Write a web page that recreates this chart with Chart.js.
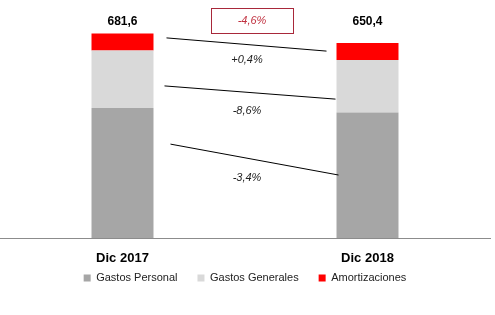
<!DOCTYPE html>
<html>
<head>
<meta charset="utf-8">
<script src="https://cdn.jsdelivr.net/npm/chart.js@4/dist/chart.umd.min.js"></script>
<style>
  html, body { margin: 0; padding: 0; background: #fff; }
  #wrap { width: 495px; height: 315px; position: relative; }
</style>
</head>
<body>
<div id="wrap"><canvas id="chart"></canvas></div>
<script>
// --- data ---
const categories = ['Dic 2017', 'Dic 2018'];
const gastosPersonal = [433.0, 418.1];
const gastosGenerales = [192.0, 175.5];
const amortizaciones = [56.6, 56.8];
const totals = ['681,6', '650,4'];
const totalChange = '-4,6%';

// connector lines between bars (values on the y axis) and their labels
const connFrom = [667, 507, 313];
const connTo = [623, 463, 210];
const connLabels = ['+0,4%', '-8,6%', '-3,4%'];
const connLabelAt = [593, 425, 200];

const annotations = {
    id: 'annotations',
    afterLayout(chart) {
        // pull the legend up, closer to the category labels
        if (chart.legend) {
            chart.legend.top -= 26;
            chart.legend.bottom -= 26;
        }
    },
    afterDatasetsDraw(chart) {
        const ctx = chart.ctx;
        const y = chart.scales.y;
        const meta = chart.getDatasetMeta(0);
        const b1 = meta.data[0], b2 = meta.data[1];
        const r1 = b1.x + b1.width / 2, l2 = b2.x - b2.width / 2;
        const midX = (b1.x + b2.x) / 2;
        const offL = [13, 11, 17], offR = [-10, -1, 2];
        ctx.save();

        // connector lines
        ctx.strokeStyle = '#000';
        ctx.lineWidth = 1;
        connFrom.forEach((v, i) => {
            ctx.beginPath();
            ctx.moveTo(r1 + offL[i], y.getPixelForValue(v));
            ctx.lineTo(l2 + offR[i], y.getPixelForValue(connTo[i]));
            ctx.stroke();
        });

        ctx.font = 'italic 11px "Liberation Sans", Arial, sans-serif';
        ctx.fillStyle = '#222';
        ctx.textAlign = 'center';
        ctx.textBaseline = 'middle';
        connLabels.forEach((t, i) => {
            ctx.fillText(t, midX + 2, y.getPixelForValue(connLabelAt[i]));
        });

        // totals above bars
        const ty = y.getPixelForValue(722);
        ctx.font = 'bold 12px "Liberation Sans", Arial, sans-serif';
        ctx.fillStyle = '#000';
        ctx.fillText(totals[0], b1.x, ty);
        ctx.fillText(totals[1], b2.x, ty);

        // total change box
        const bx = midX + 7;
        ctx.strokeStyle = '#a8283a';
        ctx.strokeRect(Math.round(bx - 41) + 0.5, Math.round(ty - 13) + 0.5, 82, 25);
        ctx.font = 'italic 11px "Liberation Sans", Arial, sans-serif';
        ctx.fillStyle = '#c0303f';
        ctx.fillText(totalChange, bx, ty);
        ctx.restore();
    }
};

new Chart(document.getElementById('chart'), {
    type: 'bar',
    data: {
        labels: categories,
        datasets: [
            { label: 'Gastos Personal', data: gastosPersonal, backgroundColor: '#a6a6a6' },
            { label: 'Gastos Generales', data: gastosGenerales, backgroundColor: '#d9d9d9' },
            { label: 'Amortizaciones', data: amortizaciones, backgroundColor: '#ff0000' }
        ]
    },
    options: {
        responsive: true,
        maintainAspectRatio: false,
        animation: false,
        layout: { padding: { top: 4, right: 5, left: 0, bottom: -4.6 } },
        datasets: { bar: { barPercentage: 0.5, categoryPercentage: 0.506 } },
        scales: {
            x: {
                stacked: true,
                grid: { display: false, drawTicks: false },
                border: { display: true, color: '#8c8c8c', width: 1 },
                ticks: {
                    padding: 19.5,
                    color: '#000',
                    // tiny line height: the label box adds almost no height
                    font: { family: '"Liberation Sans", Arial, sans-serif', size: 13, weight: 'bold', lineHeight: 0.12 }
                }
            },
            y: {
                stacked: true,
                display: false,
                min: 0,
                max: 780
            }
        },
        plugins: {
            legend: {
                position: 'bottom',
                labels: {
                    boxWidth: 7,
                    boxHeight: 7,
                    padding: 20,
                    color: '#222',
                    font: { family: '"Liberation Sans", Arial, sans-serif', size: 11 }
                }
            },
            tooltip: { enabled: false }
        }
    },
    plugins: [annotations]
});
</script>
</body>
</html>
